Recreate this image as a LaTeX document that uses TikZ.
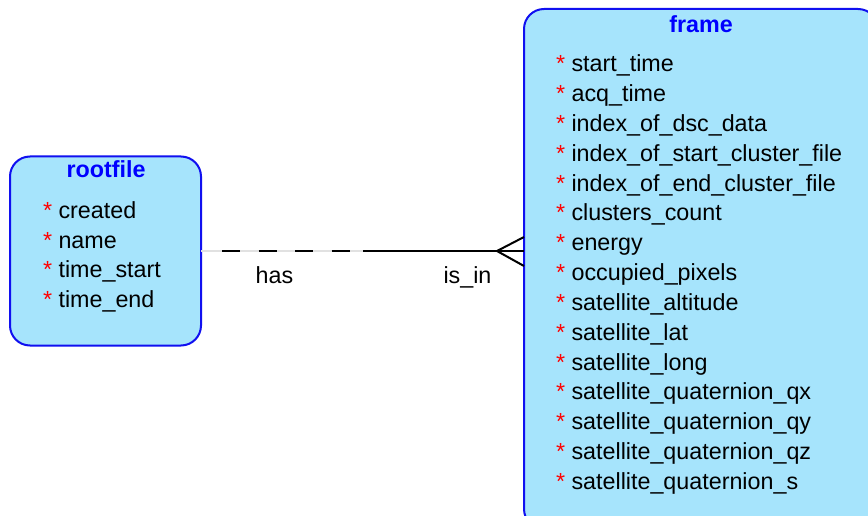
\documentclass[tikz,border=0pt]{standalone}
\usepackage{fontspec}
\setmainfont{Liberation Sans}
\usetikzlibrary{calc}
\definecolor{boxfill}{RGB}{166,228,252}
\definecolor{boxline}{RGB}{16,16,240}
\definecolor{titleblue}{RGB}{0,0,255}
\definecolor{lightline}{RGB}{225,225,225}
\begin{document}
\begin{tikzpicture}[x=1pt,y=-1pt,
  every node/.style={font=\fontsize{23.3}{27}\selectfont, inner sep=0pt, outer sep=0pt},
  entity/.style={draw=boxline, line width=2pt, fill=boxfill, rounded corners=20pt},
  etitle/.style={font=\fontsize{23.3}{27}\selectfont\bfseries, text=titleblue, anchor=base},
  attr/.style={anchor=base west},
  rel/.style={line width=2pt, black},
  lbl/.style={anchor=base}]
\useasboundingbox (0,0) rectangle (868,516);
\clip (0,0) rectangle (868,516);
% entities
\node[entity, minimum width=191pt, minimum height=189pt] (rootfile) at (105.5,251) {};
\node[entity, minimum width=354pt, minimum height=520pt] (frame) at (701,269) {};
% titles
\node[etitle] (rtitle) at (106,178) {rootfile};
\node[etitle] (ftitle) at (701,33) {frame};
% rootfile attributes
\node[attr] (r1) at (43,218.5) {\textcolor{red}{*} created};
\node[attr] (r2) at (43,248) {\textcolor{red}{*} name};
\node[attr] (r3) at (43,277.5) {\textcolor{red}{*} time\_start};
\node[attr] (r4) at (43,307) {\textcolor{red}{*} time\_end};
% frame attributes
\foreach \t [count=\i from 0] in {start\_time, acq\_time, index\_of\_dsc\_data,
  index\_of\_start\_cluster\_file, index\_of\_end\_cluster\_file, clusters\_count,
  energy, occupied\_pixels, satellite\_altitude, satellite\_lat, satellite\_long,
  satellite\_quaternion\_qx, satellite\_quaternion\_qy, satellite\_quaternion\_qz,
  satellite\_quaternion\_s}
  \node[attr] (f\i) at (556,72+29.8*\i) {\textcolor{red}{*} \t};
% relationship
\coordinate (dstart) at ($(rootfile.east)+(21,0)$);
\coordinate (dend) at ($(rootfile.east)+(162,0)$);
\coordinate (fw) at (frame.west |- rootfile.east);
\coordinate (crow) at ($(fw)+(-27,0)$);
\draw[line width=2pt, lightline] (rootfile.east) -- (dend);
\draw[rel, dash pattern=on 18pt off 18.5pt] (dstart) -- (dend);
\draw[rel] (dend) -- (fw);
\draw[rel] ($(fw)+(0,-14)$) -- (crow) -- ($(fw)+(0,15)$);
% labels
\node[lbl] (has) at (274.5,283) {has};
\node[lbl] (isin) at (467.5,283) {is\_in};
\end{tikzpicture}
\end{document}
